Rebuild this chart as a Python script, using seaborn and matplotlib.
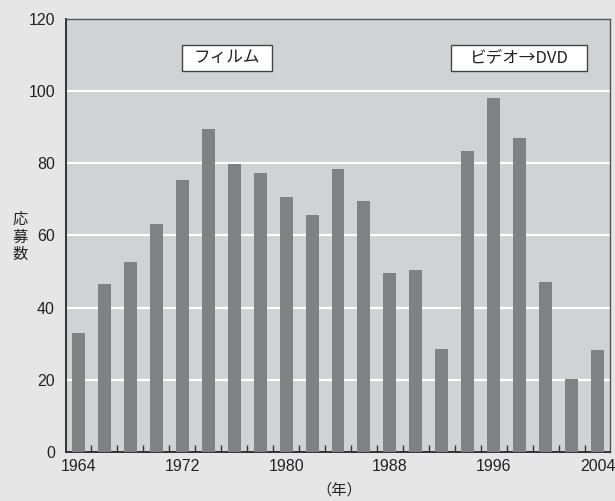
import numpy as np
import matplotlib
matplotlib.use("Agg")
import matplotlib.pyplot as plt
from matplotlib.patches import Rectangle
from matplotlib.ticker import FixedLocator
import seaborn as sns

# data
years = [1964, 1966, 1968, 1970, 1972, 1974, 1976, 1978, 1980, 1982, 1984,
         1986, 1988, 1990, 1992, 1994, 1996, 1998, 2000, 2002, 2004]
entries = [33, 46.5, 52.5, 63, 75.3, 89.5, 79.8, 77.3, 70.6, 65.6, 78.4,
           69.6, 49.6, 50.5, 28.4, 83.4, 98.1, 86.8, 47.2, 20.1, 28.1]
label_years = [1964, 1972, 1980, 1988, 1996, 2004]
y_ticks = [0, 20, 40, 60, 80, 100, 120]

sns.set_theme(style="white")
plt.rcParams['font.family'] = ['Liberation Sans', 'Noto Sans CJK JP', 'DejaVu Sans']
plt.rcParams['xtick.direction'] = 'in'
plt.rcParams['xtick.minor.visible'] = False

fig = plt.figure(figsize=(6.15, 5.01), dpi=100, facecolor='#e6e6e6')
ax = fig.add_axes([0.1073, 0.0978, 0.8846, 0.8652])
ax.set_facecolor('#d1d2d4')

cats = [str(y) for y in years]
sns.barplot(x=cats, y=entries, color='#808184', saturation=1, width=0.5,
            linewidth=0, edgecolor='none', ax=ax, zorder=3)

ax.set_ylim(0, 120)
ax.set_xlim(-0.48, len(years) - 0.52)
ax.set_yticks(y_ticks)
ax.set_yticklabels([str(t) for t in y_ticks], fontsize=11.5, color='#222222')
for t in y_ticks[1:-1]:
    ax.axhline(t, color='white', lw=1.6, zorder=1)

major = [cats.index(str(y)) for y in label_years]
ax.set_xticks(major)
ax.set_xticklabels([str(y) for y in label_years], fontsize=11.5, color='#222222')
ax.set_xticks(np.arange(0.5, len(years) - 1, 1.0), minor=True)
ax.tick_params(axis='x', which='major', length=0, pad=5)
ax.tick_params(axis='x', which='minor', direction='in', length=5, width=1,
               color='#333333', bottom=True, top=False, labelbottom=False)
ax.tick_params(axis='y', length=0, pad=8)
ax.set_xlabel('')
ax.set_ylabel('')

for side in ['left', 'bottom']:
    ax.spines[side].set_color('#333333')
    ax.spines[side].set_linewidth(1.4)
for side in ['top', 'right']:
    ax.spines[side].set_color('#555555')
    ax.spines[side].set_linewidth(1.0)

# era labels in boxes
boxes = [(0.2132, 0.3787, 'フィルム'), (0.7077, 0.9577, 'ビデオ→DVD')]
for x0, x1, txt in boxes:
    ax.add_patch(Rectangle((x0, 0.879), x1 - x0, 0.06, transform=ax.transAxes,
                           facecolor='white', edgecolor='#444444', lw=1.0, zorder=5))
    ax.text((x0 + x1) / 2, 0.909, txt, transform=ax.transAxes, ha='center',
            va='center', fontsize=12, color='#222222', zorder=6,
            family=['Noto Sans CJK JP', 'DejaVu Sans'])

fig.text(0.033, 0.527, '応\n募\n数', ha='center', va='center', fontsize=11,
         linespacing=1.05, color='#222222', family=['Noto Sans CJK JP'])
fig.text(0.552, 0.022, '（年）', ha='center', va='center', fontsize=11,
         color='#222222', family=['Noto Sans CJK JP'])

fig.savefig('out.png', dpi=100, facecolor=fig.get_facecolor())
